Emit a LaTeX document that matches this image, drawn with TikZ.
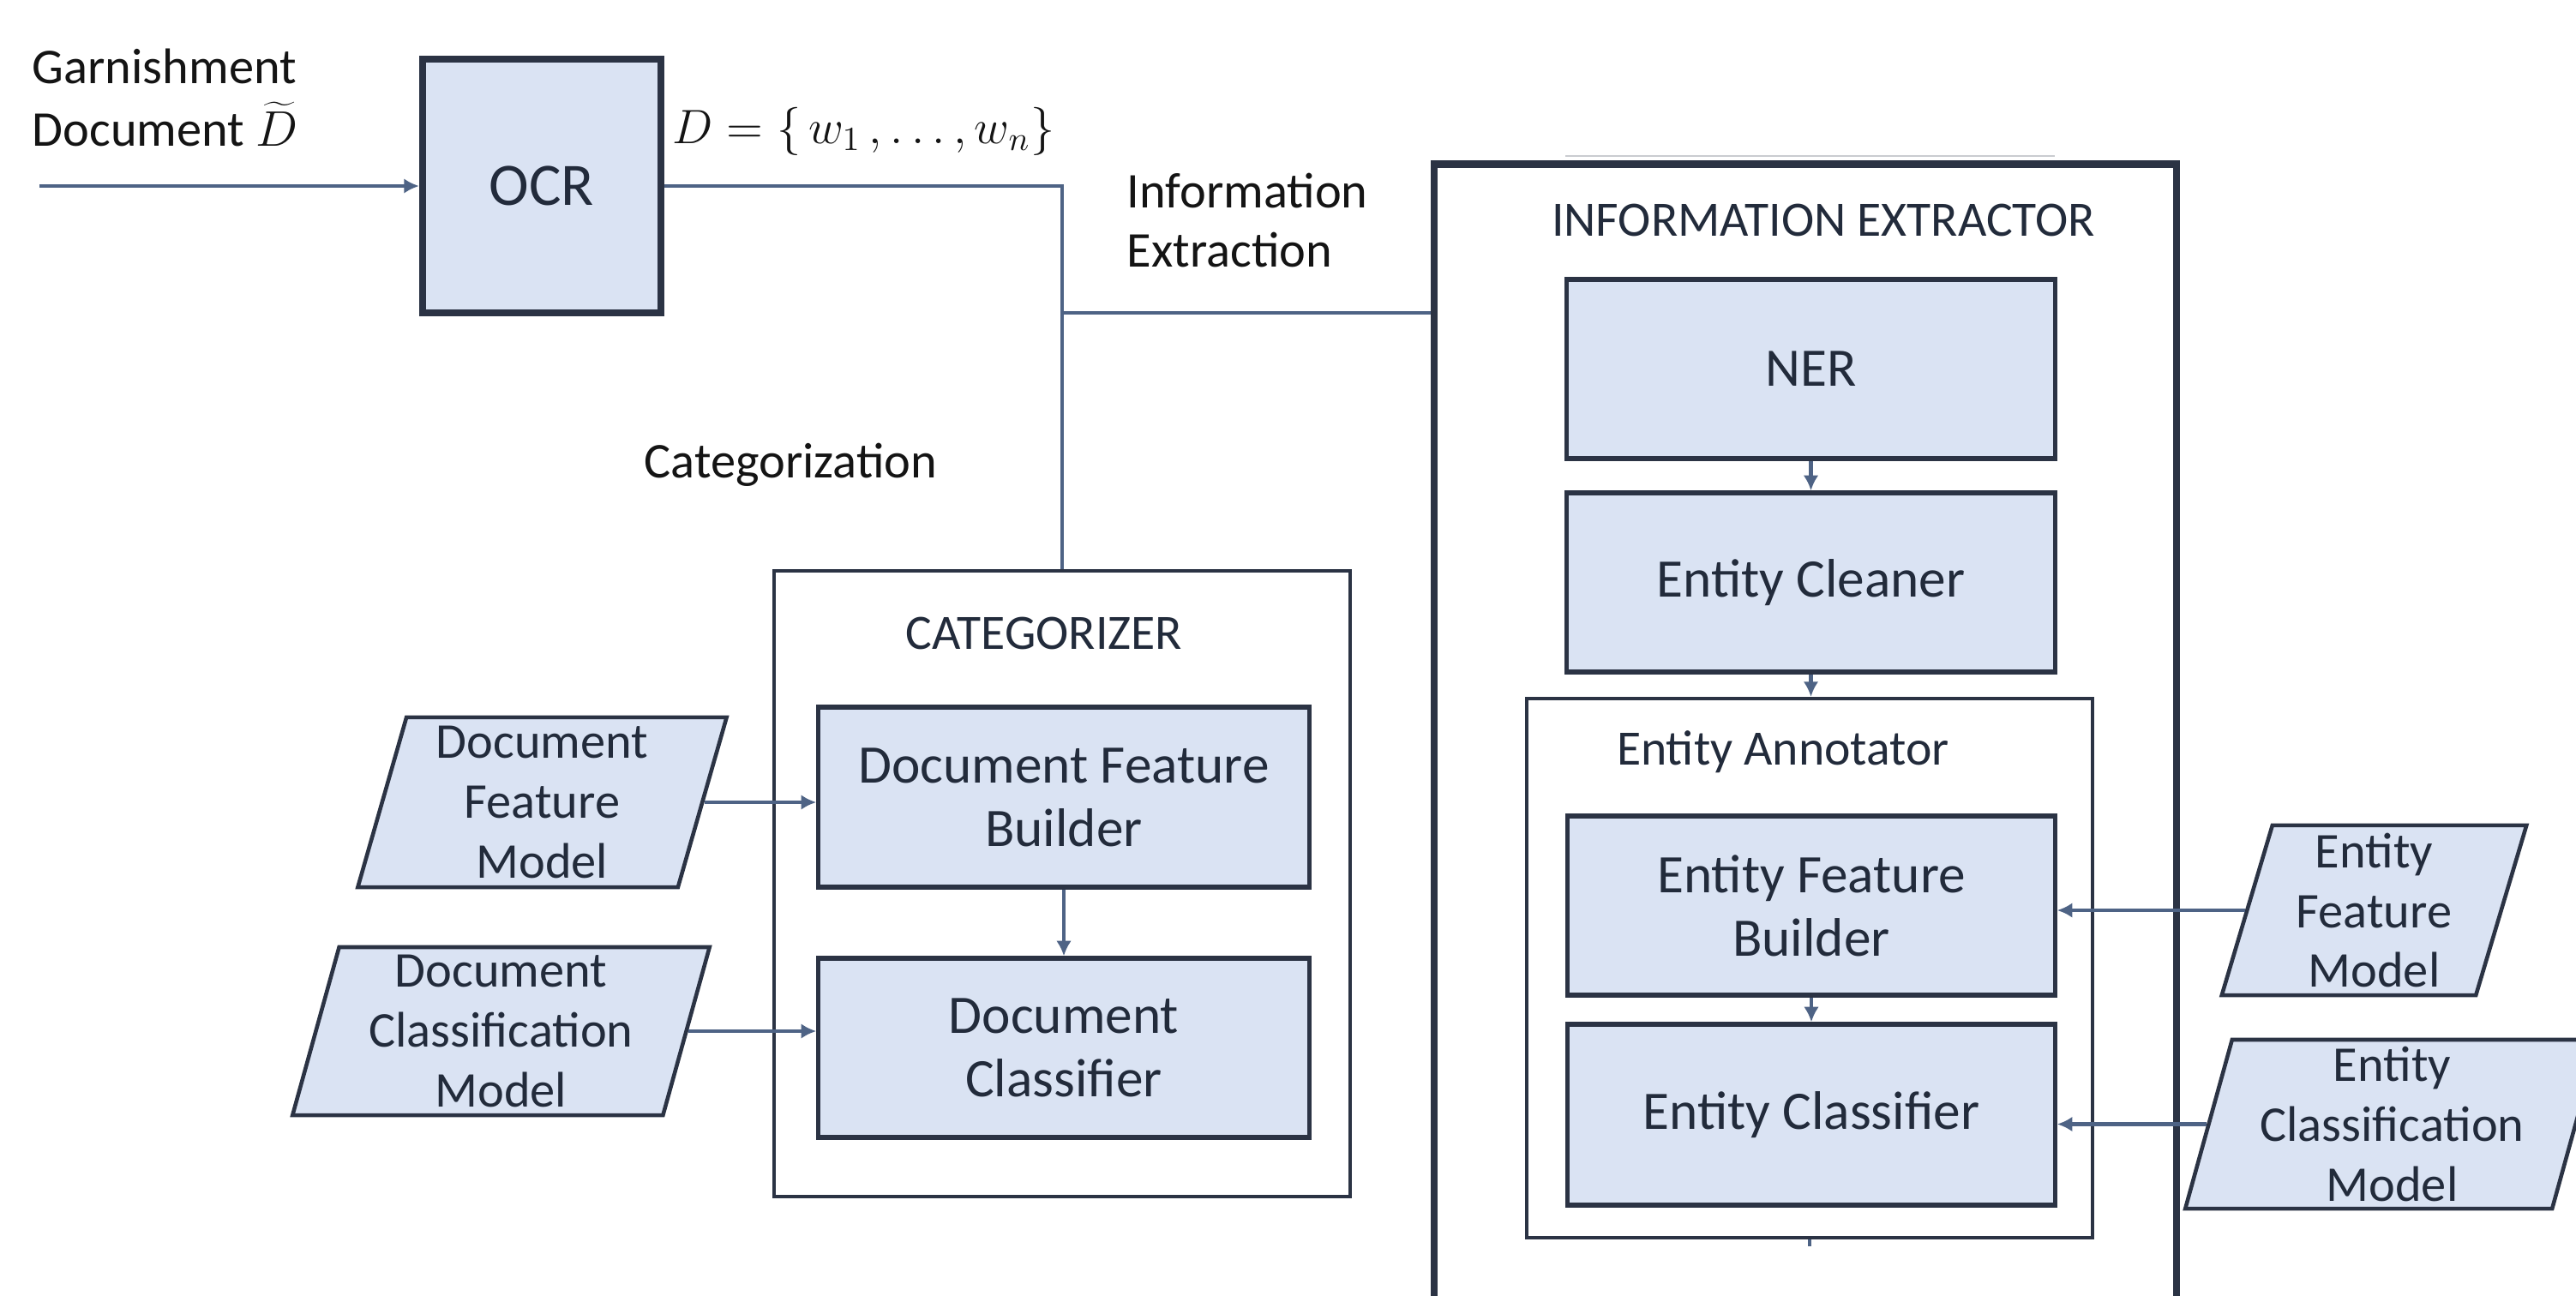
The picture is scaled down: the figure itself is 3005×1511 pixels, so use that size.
\RequirePackage{fix-cm}
\documentclass[tikz,border=0pt]{standalone}
\usepackage{fontspec}
\setmainfont{Carlito}
\usetikzlibrary{arrows.meta,shapes.geometric}
\definecolor{boxfill}{HTML}{DAE3F3}
\definecolor{boxline}{HTML}{2B3344}
\definecolor{conn}{HTML}{4E6385}
\definecolor{ink}{HTML}{222B3B}
\tikzset{
  blk/.style={draw=boxline, fill=boxfill, line width=1.5pt, text=ink,
    font=\fontsize{18}{21}\selectfont, align=center, inner sep=0pt},
  group/.style={draw=boxline, line width=1.1pt, fill=white, inner sep=0pt},
  dataio/.style={trapezium, trapezium left angle=76, trapezium right angle=104,
    trapezium stretches=true, draw=boxline, fill=boxfill, line width=1.3pt,
    text=ink, font=\fontsize{16.6}{19.9}\selectfont, align=center, inner sep=0pt},
  lbl/.style={text=black!92, font=\fontsize{16.6}{19.6}\selectfont,
    inner sep=0pt, align=left},
  ttl/.style={text=ink, font=\fontsize{16.4}{19.4}\selectfont, inner sep=0pt},
  wire/.style={draw=conn, line width=1.2pt},
  arr/.style={wire, -{Latex[length=5pt,width=5pt]}},
}
\begin{document}
\begin{tikzpicture}[x=0.01cm, y=-0.01cm]
\fill[white] (0,0) rectangle (3005,1511);
\useasboundingbox (0,0) rectangle (3005,1511);

% OCR stage
\node[blk, line width=2.3pt, font=\fontsize{20}{24}\selectfont,
  minimum width=2.78cm, minimum height=2.96cm] (ocr) at (632,217) {OCR};

% categorizer group
\node[group, minimum width=6.72cm, minimum height=7.30cm] (cat) at (1239,1031) {};
\node[ttl, anchor=base] (cattitle) at (1218,757) {CATEGORIZER};
\node[blk, minimum width=5.72cm, minimum height=2.10cm] (dfb) at (1241,930)
  {Document Feature\\Builder};
\node[blk, minimum width=5.72cm, minimum height=2.09cm] (dc) at (1241,1222.5)
  {Document\\Classifier};

% information extractor group
\draw[boxline!25, line width=0.6pt] (1826,182) -- (2397,182);
\node[draw=boxline, line width=2.4pt, fill=white, inner sep=0pt,
  minimum width=8.66cm, minimum height=14cm] (ie) at (2106,892) {};
\node[ttl, anchor=base] (ietitle) at (2127,275) {INFORMATION EXTRACTOR};
\node[blk, minimum width=5.69cm, minimum height=2.09cm] (ner) at (2112.5,430.5) {NER};
\node[blk, minimum width=5.69cm, minimum height=2.09cm] (ecl) at (2112.5,679.5)
  {Entity Cleaner};
\node[group, minimum width=6.60cm, minimum height=6.29cm] (ea) at (2111,1129.5) {};
\node[ttl, anchor=base] (eatitle) at (2080,892) {Entity Annotator};
\node[blk, minimum width=5.68cm, minimum height=2.09cm] (efb) at (2113,1056.5)
  {Entity Feature\\Builder};
\node[blk, minimum width=5.68cm, minimum height=2.11cm] (ecf) at (2113,1300.5)
  {Entity Classifier};

% model inputs
\node[dataio, minimum width=4.33cm, minimum height=1.98cm] (dfm) at (632.5,936)
  {Document\\Feature\\Model};
\node[dataio, minimum width=4.87cm, minimum height=1.96cm] (dcm) at (584.5,1203)
  {Document\\Classification\\Model};
\node[dataio, minimum width=3.57cm, minimum height=1.98cm] (efm) at (2769.5,1062)
  {Entity\\Feature\\Model};
\node[dataio, minimum width=4.83cm, minimum height=1.97cm] (ecm) at (2790.5,1311.5)
  {Entity\\Classification\\Model};

% free labels
\node[lbl, anchor=west] (garn) at (37,114) {Garnishment\\[1pt]Document $\widetilde{D}$};
\node[lbl, anchor=base west, font=\fontsize{16}{20}\selectfont] (dset) at (784,167)
  {$D = \{\,w_1\,, \ldots, w_n\}$};
\node[lbl, anchor=west] (ietext) at (1314,257) {Information\\Extraction};
\node[lbl, anchor=base west] (cattext) at (751,557) {Categorization};

% connectors
\coordinate (src) at (46,217);
\coordinate (split) at (1239,365);
\draw[arr] (src) -- (ocr.west);
\draw[wire] (ocr.east) -| (cat.north);
\draw[wire] (split) -- (split -| ie.west);
\draw[arr] (dfb.south) -- (dc.north);
\draw[arr] (dfm.east) -- (dfm.east -| dfb.west);
\draw[arr] (dcm.east) -- (dcm.east -| dc.west);
\draw[arr] (ner.south) -- (ecl.north);
\draw[arr] (ecl.south) -- (ecl.south |- ea.north);
\draw[arr] (efb.south) -- (ecf.north);
\draw[arr] (efm.west) -- (efm.west -| efb.east);
\draw[arr] (ecm.west) -- (ecm.west -| ecf.east);
\draw[wire] (ea.south) -- ++(0,8);
\end{tikzpicture}
\end{document}
